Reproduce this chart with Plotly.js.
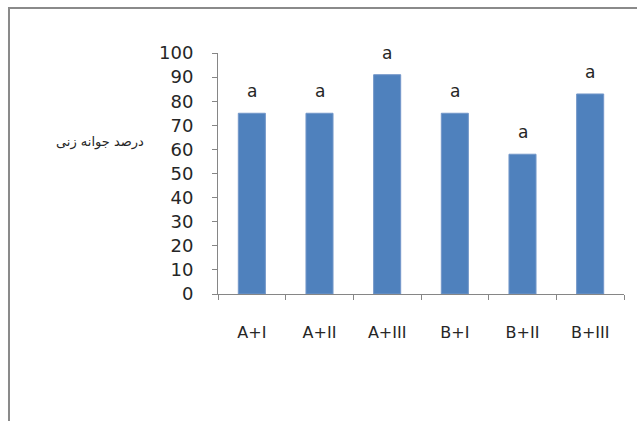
<!DOCTYPE html>
<html>
<head>
<meta charset="utf-8">
<script src="https://cdn.plot.ly/plotly-3.0.1.min.js"></script>
<style>html,body{margin:0;padding:0;background:#fff;}#chart{width:637px;height:421px;}</style>
</head>
<body>
<div id="chart"></div>
<script>
var categories = ['A+I', 'A+II', 'A+III', 'B+I', 'B+II', 'B+III'];
var germination = [75, 75, 91, 75, 58, 83];
var letters = ['a', 'a', 'a', 'a', 'a', 'a'];
var yTitle = 'درصد جوانه زنی';

var textColor = '#262626';
var axisColor = '#868686';

var trace = {
  type: 'bar',
  x: categories,
  y: germination,
  marker: {color: '#4F81BD', line: {color: '#7397c9', width: 1}},
  hoverinfo: 'x+y'
};

var annotations = categories.map(function (c, i) {
  return {
    x: c, y: germination[i], xref: 'x', yref: 'y',
    text: letters[i], showarrow: false, yanchor: 'bottom', yshift: 10,
    font: {family: 'DejaVu Sans', size: 17, color: textColor}
  };
});
annotations.push({
  xref: 'paper', yref: 'paper', x: -0.291, y: 0.631,
  xanchor: 'center', yanchor: 'middle', showarrow: false,
  text: yTitle,
  font: {family: 'DejaVu Sans', size: 13, color: textColor}
});

var layout = {
  width: 637, height: 421,
  margin: {l: 218, r: 13, t: 53, b: 127},
  paper_bgcolor: '#ffffff', plot_bgcolor: '#ffffff',
  showlegend: false,
  bargap: 0.6,
  font: {family: 'DejaVu Sans', color: textColor},
  xaxis: {
    type: 'category', range: [-0.5, 5.5],
    showline: true, linecolor: axisColor, linewidth: 1,
    ticks: 'outside', tickson: 'boundaries', ticklen: 5, tickcolor: axisColor,
    showgrid: false, zeroline: false,
    tickfont: {family: 'DejaVu Sans', size: 16, color: textColor},
    ticklabelstandoff: 24
  },
  yaxis: {
    range: [0, 100], dtick: 10, tick0: 0,
    showline: true, linecolor: axisColor, linewidth: 1,
    ticks: 'outside', ticklen: 5, tickcolor: axisColor,
    showgrid: false, zeroline: false,
    tickfont: {family: 'DejaVu Sans', size: 18, color: textColor},
    ticklabelstandoff: 15
  },
  annotations: annotations,
  shapes: [{
    type: 'rect', xref: 'paper', yref: 'paper',
    x0: -0.5148, x1: 1.3, y0: -1.0, y1: 1.1867,
    line: {color: '#8a8a8a', width: 2}, fillcolor: 'rgba(0,0,0,0)', layer: 'below'
  }]
};

Plotly.newPlot('chart', [trace], layout, {displayModeBar: false, staticPlot: true});
</script>
</body>
</html>
